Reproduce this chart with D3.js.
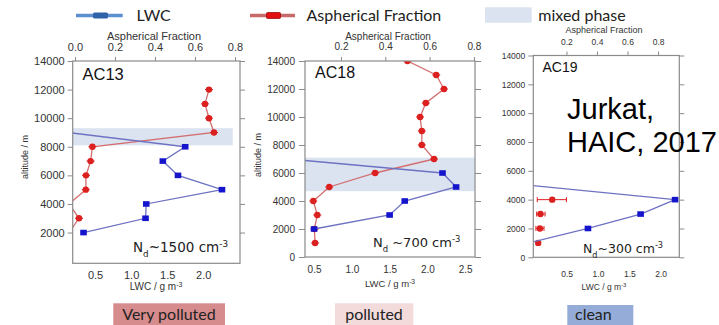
<!DOCTYPE html>
<html><head><meta charset="utf-8">
<script src="https://cdn.jsdelivr.net/npm/d3@7/dist/d3.min.js"></script>
<style>body{margin:0;background:#fff}svg{display:block}</style>
</head><body><svg id="c" width="719" height="325"></svg>
<script>
// ---------------- DATA ----------------
const panelNames = ["AC13", "AC18", "AC19"];
const ndLabels = ["~1500 cm", " ~700 cm", "~300 cm"];
const conditionLabels = ["Very polluted", "polluted", "clean"];

const altTicks13 = [2000, 4000, 6000, 8000, 10000, 12000, 14000];
const altTicks = [0, 2000, 4000, 6000, 8000, 10000, 12000, 14000];
const lwcTicks13 = [0.5, 1.0, 1.5, 2.0];
const lwcTicks18 = [0.5, 1.0, 1.5, 2.0, 2.5];
const lwcTicks19 = [0.5, 1.0, 1.5, 2.0];
const asphTicks13 = [0.0, 0.2, 0.4, 0.6, 0.8];
const asphTicks = [0.2, 0.4, 0.6, 0.8];

// AC13
const ac13LwcAlt = [9000, 8000, 7000, 6000, 5000, 4000, 3000, 2000];
const ac13Lwc    = [0.12, 1.75, 1.44, 1.65, 2.26, 1.21, 1.20, 0.34];
const ac13AsphAlt = [12000, 11000, 10000, 9000, 8000, 7000, 6000, 5000, 4000, 3000, 2000];
const ac13Asph    = [0.67, 0.65, 0.67, 0.695, 0.087, 0.078, 0.055, 0.054, -0.03, 0.02, -0.03];
const ac13Mixed = [8100, 9300];

// AC18
const ac18LwcAlt = [7000, 6000, 5000, 4000, 3000, 2000];
const ac18Lwc    = [0.16, 2.20, 2.38, 1.70, 1.50, 0.50];
const ac18AsphAlt = [14000, 13000, 12000, 11000, 10000, 9000, 8000, 7000, 6000, 5000, 4000, 3000, 2000, 1000];
const ac18Asph    = [0.50, 0.63, 0.665, 0.583, 0.557, 0.565, 0.565, 0.62, 0.354, 0.147, 0.075, 0.093, 0.08, 0.083];
const ac18Mixed = [4700, 7100];

// AC19
const ac19LwcAlt = [5000, 4000, 3000, 2000, 1000];
const ac19Lwc    = [-0.09, 2.23, 1.68, 0.84, -0.1];
const ac19AsphAlt = [4000, 3000, 2000, 1000];
const ac19Asph    = [0.107, 0.03, 0.026, 0.015];
const ac19AsphLo  = [0.009, 0.005, 0.0, 0.015];
const ac19AsphHi  = [0.20, 0.06, 0.053, 0.015];

// ---------------- LAYOUT ----------------
const layout = [
  {x0:72.7, x1:240, y0:61, y1:263.3, lwcDom:[0.19,2.51], asphDom:[-0.0115,0.825], altDom:[-150,14000],
   altT:altTicks13, lwcT:lwcTicks13, asphT:asphTicks13, fs:11, lt:5, lp:3, tt:4, tp:6.5, bp:8,
   topTitle:{x:154,y:39.5,fs:11}, botTitle:{x:156,y:290,fs:10}, yTitle:{x:25,y:157,fs:9},
   name:{x:82.5,y:80,fs:16.5}, nd:{x:133,y:252,fs:13.5}, mixed:ac13Mixed, mixedLwcMax:2.41,
   lwcAlt:ac13LwcAlt, lwc:ac13Lwc, asphAlt:ac13AsphAlt, asph:ac13Asph, connectAsph:true,
   cond:{x:113.3,w:111.7,y:303.3,fill:"#d68b8c",tx:169,anchor:"middle"}},
  {x0:305, x1:475, y0:61, y1:257, lwcDom:[0.38,2.63], asphDom:[0.0375,0.805], altDom:[0,14000],
   altT:altTicks, lwcT:lwcTicks18, asphT:asphTicks, fs:10, lt:6, lp:4, tt:4, tp:7, bp:9,
   topTitle:{x:388,y:40,fs:10}, botTitle:{x:390,y:286.5,fs:9.5}, yTitle:{x:258,y:155,fs:9},
   name:{x:315,y:77.5,fs:16}, nd:{x:373,y:247,fs:13}, mixed:ac18Mixed, mixedLwcMax:null,
   lwcAlt:ac18LwcAlt, lwc:ac18Lwc, asphAlt:ac18AsphAlt, asph:ac18Asph, connectAsph:true,
   cond:{x:335,w:78.3,y:303.3,fill:"#f3dbdc",tx:374,anchor:"middle"}},
  {x0:533.3, x1:679.3, y0:55.5, y1:257.3, lwcDom:[-0.032,2.297], asphDom:[-0.017,0.939], altDom:[0,14000],
   altT:altTicks, lwcT:lwcTicks19, asphT:asphTicks, fs:8.5, lt:5, lp:3, tt:4, tp:6.5, bp:13.5,
   topTitle:{x:604,y:33,fs:9}, botTitle:{x:604,y:290,fs:8.5}, yTitle:null,
   name:{x:542.5,y:72,fs:14}, nd:{x:583,y:253,fs:12.5}, mixed:null, mixedLwcMax:null,
   lwcAlt:ac19LwcAlt, lwc:ac19Lwc, asphAlt:ac19AsphAlt, asph:ac19Asph, connectAsph:false,
   errLo:ac19AsphLo, errHi:ac19AsphHi,
   cond:{x:567.3,w:66,y:305,fill:"#94acd7",tx:575,anchor:"start"}}
];

const svg = d3.select("#c");
const AX = "#8a8a8a", TXT = "#333";
const BLUE_L = "#6e72c2", BLUE_M = "#1414cc", RED_L = "#d36f70", RED_M = "#dc1f1f";
const fmt1 = d3.format(".1f");

layout.forEach((p, i) => {
  const g = svg.append("g");
  const x = d3.scaleLinear().domain(p.lwcDom).range([p.x0, p.x1]);
  const xa = d3.scaleLinear().domain(p.asphDom).range([p.x0, p.x1]);
  const y = d3.scaleLinear().domain(p.altDom).range([p.y1, p.y0]);
  const cid = "clip" + i;
  svg.append("clipPath").attr("id", cid).append("rect")
    .attr("x", p.x0).attr("y", p.y0).attr("width", p.x1 - p.x0).attr("height", p.y1 - p.y0);

  // mixed phase band
  if (p.mixed) {
    const xr = p.mixedLwcMax ? x(p.mixedLwcMax) : p.x1;
    g.append("rect").attr("x", p.x0).attr("y", y(p.mixed[1]))
      .attr("width", xr - p.x0).attr("height", y(p.mixed[0]) - y(p.mixed[1]))
      .attr("fill", "#dbe3f1");
  }

  const plot = g.append("g").attr("clip-path", `url(#${cid})`);
  // asph (red)
  const asphPts = p.asph.map((v, k) => ({v, a: p.asphAlt[k], k}));
  if (p.connectAsph) {
    plot.append("path").datum(asphPts)
      .attr("d", d3.line().x(d => xa(d.v)).y(d => y(d.a)))
      .attr("fill", "none").attr("stroke", RED_L).attr("stroke-width", 1.3);
  }
  const rp = plot.selectAll(".r").data(asphPts).enter().append("g");
  rp.append("line")
    .attr("x1", d => p.errLo ? xa(p.errLo[d.k]) : xa(d.v) - 4)
    .attr("x2", d => p.errHi ? xa(p.errHi[d.k]) : xa(d.v) + 4)
    .attr("y1", d => y(d.a)).attr("y2", d => y(d.a))
    .attr("stroke", RED_M).attr("stroke-width", 1);
  if (p.errLo) {
    rp.filter(d => p.errHi[d.k] - p.errLo[d.k] > 0.02).each(function(d) {
      const s = d3.select(this);
      [p.errLo[d.k], p.errHi[d.k]].forEach(e => s.append("line")
        .attr("x1", xa(e)).attr("x2", xa(e)).attr("y1", y(d.a) - 2.5).attr("y2", y(d.a) + 2.5)
        .attr("stroke", RED_M).attr("stroke-width", 1));
    });
  }
  rp.append("circle").attr("cx", d => xa(d.v)).attr("cy", d => y(d.a)).attr("r", 3.2)
    .attr("fill", RED_M);

  // LWC (blue)
  const lwcPts = p.lwc.map((v, k) => ({v, a: p.lwcAlt[k]}));
  plot.append("path").datum(lwcPts)
    .attr("d", d3.line().x(d => x(d.v)).y(d => y(d.a)))
    .attr("fill", "none").attr("stroke", BLUE_L).attr("stroke-width", 1.3);
  plot.selectAll(".b").data(lwcPts).enter().append("rect")
    .attr("x", d => x(d.v) - 3.3).attr("y", d => y(d.a) - 2.8)
    .attr("width", 6.6).attr("height", 5.6).attr("fill", BLUE_M);

  // frame
  g.append("rect").attr("x", p.x0).attr("y", p.y0).attr("width", p.x1 - p.x0).attr("height", p.y1 - p.y0)
    .attr("fill", "none").attr("stroke", AX).attr("stroke-width", 1.2);

  const styleAxis = sel => {
    sel.select(".domain").remove();
    sel.selectAll("line").attr("stroke", AX);
    sel.selectAll("text").attr("fill", TXT).attr("font-size", p.fs)
      .attr("font-family", "'Liberation Sans', Arial, sans-serif");
  };
  g.append("g").attr("transform", `translate(${p.x0},0)`)
    .call(d3.axisLeft(y).tickValues(p.altT).tickSize(p.lt).tickPadding(p.lp).tickFormat(d3.format("d")))
    .call(styleAxis);
  g.append("g").attr("transform", `translate(${p.x1},0)`)
    .call(d3.axisRight(y).tickValues(p.altT).tickSize(p.lt).tickFormat(""))
    .call(styleAxis);
  g.append("g").attr("transform", `translate(0,${p.y0})`)
    .call(d3.axisTop(xa).tickValues(p.asphT).tickSize(p.tt).tickPadding(p.tp).tickFormat(fmt1))
    .call(styleAxis);
  g.append("g").attr("transform", `translate(0,${p.y1})`)
    .call(d3.axisBottom(x).tickValues(p.lwcT).tickSize(0).tickPadding(p.bp).tickFormat(fmt1))
    .call(styleAxis);

  const font = "'Liberation Sans', Arial, sans-serif";
  g.append("text").attr("x", p.topTitle.x).attr("y", p.topTitle.y).attr("text-anchor", "middle")
    .attr("font-size", p.topTitle.fs).attr("font-family", font).attr("fill", TXT).text("Aspherical Fraction");
  const bt = g.append("text").attr("x", p.botTitle.x).attr("y", p.botTitle.y).attr("text-anchor", "middle")
    .attr("font-size", p.botTitle.fs).attr("font-family", font).attr("fill", TXT);
  bt.append("tspan").text("LWC / g m");
  bt.append("tspan").attr("baseline-shift", "super").attr("font-size", p.botTitle.fs * 0.7).text("-3");
  if (p.yTitle) {
    g.append("text").attr("transform", `translate(${p.yTitle.x},${p.yTitle.y}) rotate(-90)`)
      .attr("text-anchor", "middle").attr("dy", "0.35em")
      .attr("font-size", p.yTitle.fs).attr("font-family", font).attr("fill", TXT).text("altitude / m");
  }
  g.append("text").attr("x", p.name.x).attr("y", p.name.y).attr("font-size", p.name.fs)
    .attr("font-family", font).attr("fill", "#111").text(panelNames[i]);

  const nd = g.append("text").attr("x", p.nd.x).attr("y", p.nd.y).attr("font-size", p.nd.fs)
    .attr("font-family", "'DejaVu Sans', sans-serif").attr("fill", "#222");
  nd.append("tspan").text("N");
  nd.append("tspan").attr("baseline-shift", "sub").attr("font-size", p.nd.fs * 0.65).text("d");
  nd.append("tspan").text(ndLabels[i]);
  nd.append("tspan").attr("baseline-shift", "super").attr("font-size", p.nd.fs * 0.65).text("-3");

  // condition label box
  svg.append("rect").attr("x", p.cond.x).attr("y", p.cond.y).attr("width", p.cond.w).attr("height", 30)
    .attr("fill", p.cond.fill);
  svg.append("text").attr("x", p.cond.tx).attr("y", 320).attr("text-anchor", p.cond.anchor)
    .attr("font-size", 16).attr("font-family", "Lato, 'Open Sans', sans-serif").attr("fill", "#222")
    .text(conditionLabels[i]);
});

// legend
const lg = svg.append("g").attr("font-family", "Lato, 'Open Sans', sans-serif").attr("font-size", 16).attr("fill", "#222");
lg.append("line").attr("x1", 76).attr("x2", 122.7).attr("y1", 15.5).attr("y2", 15.5).attr("stroke", "#5b8fcf").attr("stroke-width", 3.5);
lg.append("rect").attr("x", 93).attr("y", 12.5).attr("width", 15).attr("height", 6).attr("rx", 1.5).attr("fill", "#2f62a8");
lg.append("text").attr("x", 136.5).attr("y", 21).text("LWC");
lg.append("line").attr("x1", 250).attr("x2", 295).attr("y1", 15.5).attr("y2", 15.5).attr("stroke", "#c86a6a").attr("stroke-width", 3.5);
lg.append("rect").attr("x", 266.5).attr("y", 12.5).attr("width", 14).attr("height", 6).attr("rx", 1).attr("fill", "#e21010").attr("stroke", "#9a1010").attr("stroke-width", 0.8);
lg.append("text").attr("x", 306.5).attr("y", 21).text("Aspherical Fraction");
lg.append("rect").attr("x", 485).attr("y", 7.3).attr("width", 46.7).attr("height", 15.4).attr("fill", "#dbe3f1");
lg.append("text").attr("x", 538.3).attr("y", 21).text("mixed phase");

// citation
const cit = svg.append("text").attr("font-family", "'Liberation Sans', Arial, sans-serif").attr("font-size", 29).attr("fill", "#000");
cit.append("tspan").attr("x", 567).attr("y", 119).text("Jurkat,");
cit.append("tspan").attr("x", 567).attr("y", 152).text("HAIC, 2017");
</script></body></html>
